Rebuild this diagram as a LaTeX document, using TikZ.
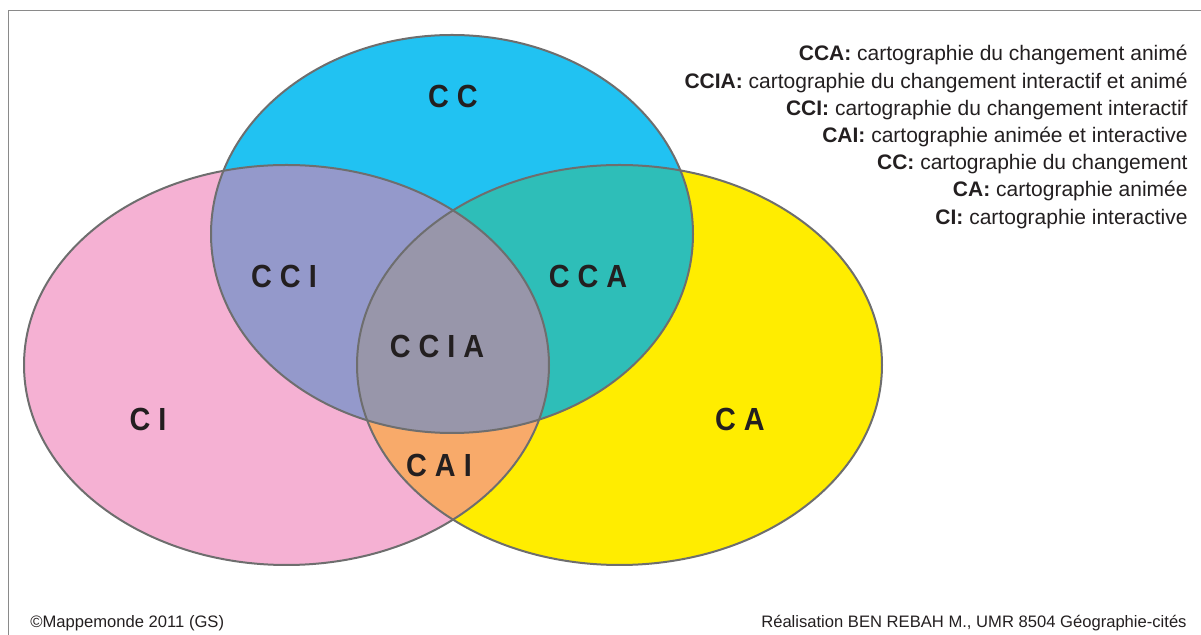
\documentclass[tikz,border=0pt]{standalone}
\usepackage{fontspec}
\setmainfont{Liberation Sans}

\definecolor{ccblue}{HTML}{21C2F2}
\definecolor{cipink}{HTML}{F5B1D3}
\definecolor{cayellow}{HTML}{FFED00}
\definecolor{ccipurple}{HTML}{9499CB}
\definecolor{ccateal}{HTML}{2EBEB8}
\definecolor{cciagray}{HTML}{9896AA}
\definecolor{caiorange}{HTML}{F8AA6A}
\definecolor{edgegray}{HTML}{6E6E6E}
\definecolor{framegray}{HTML}{8A8A8A}
\definecolor{txtdark}{HTML}{231F20}

\newcommand{\narrow}[1]{\scalebox{0.9}[1]{#1}}

\tikzset{
  zone/.style={draw=edgegray, line width=1pt},
  biglabel/.style={anchor=base, font=\bfseries\fontsize{16}{18}\selectfont, text=txtdark, inner sep=0pt},
  legendline/.style={anchor=base east, font=\fontsize{10.5}{12}\selectfont, text=txtdark, inner sep=0pt},
  credit/.style={font=\fontsize{8.3}{10}\selectfont, text=txtdark, inner sep=0pt},
}

\begin{document}
\begin{tikzpicture}[x=0.5pt,y=-0.5pt]
\useasboundingbox (0,0) rectangle (1201,635);

% frame (only left and top sides show)
\draw[framegray, line width=0.5pt] (8,635) -- (8,10.5) -- (1201,10.5);

% the three sets
\def\setCC{(452,234) ellipse [x radius=241, y radius=199]}
\def\setCI{(286.5,365) ellipse [x radius=262.5, y radius=200]}
\def\setCA{(619.5,365) ellipse [x radius=262.5, y radius=200]}

\fill[cipink] \setCI;
\fill[cayellow] \setCA;
\fill[ccblue] \setCC;

% intersections
\begin{scope}
\clip \setCC;
\fill[ccipurple] \setCI;
\fill[ccateal] \setCA;
\end{scope}
\begin{scope}
\clip \setCI;
\fill[caiorange] \setCA;
\clip \setCA;
\fill[cciagray] \setCC;
\end{scope}

\draw[zone] \setCI;
\draw[zone] \setCA;
\draw[zone] \setCC;

% labels
\node[biglabel] (cc) at (453,108) {\narrow{C C}};
\node[biglabel] (cci) at (284,288) {\narrow{C C I}};
\node[biglabel] (cca) at (588,288) {\narrow{C C A}};
\node[biglabel] (ccia) at (437,358) {\narrow{C C I A}};
\node[biglabel] (ci) at (148,431) {\narrow{C I}};
\node[biglabel] (ca) at (740,431) {\narrow{C A}};
\node[biglabel] (cai) at (439,477) {\narrow{C A I}};

% legend
\foreach \abbr/\desc [count=\i from 0] in {
  CCA/cartographie du changement animé,
  CCIA/cartographie du changement interactif et animé,
  CCI/cartographie du changement interactif,
  CAI/cartographie animée et interactive,
  CC/cartographie du changement,
  CA/cartographie animée,
  CI/cartographie interactive}
  \node[legendline] (leg\i) at (1188,61+27.2*\i) {\textbf{\abbr:} \desc};

% credits
\node[credit, anchor=base west] (copyr) at (30,628) {©Mappemonde 2011 (GS)};
\node[credit, anchor=base east] (made) at (1187,628) {Réalisation BEN REBAH M., UMR 8504 Géographie-cités};
\end{tikzpicture}
\end{document}
